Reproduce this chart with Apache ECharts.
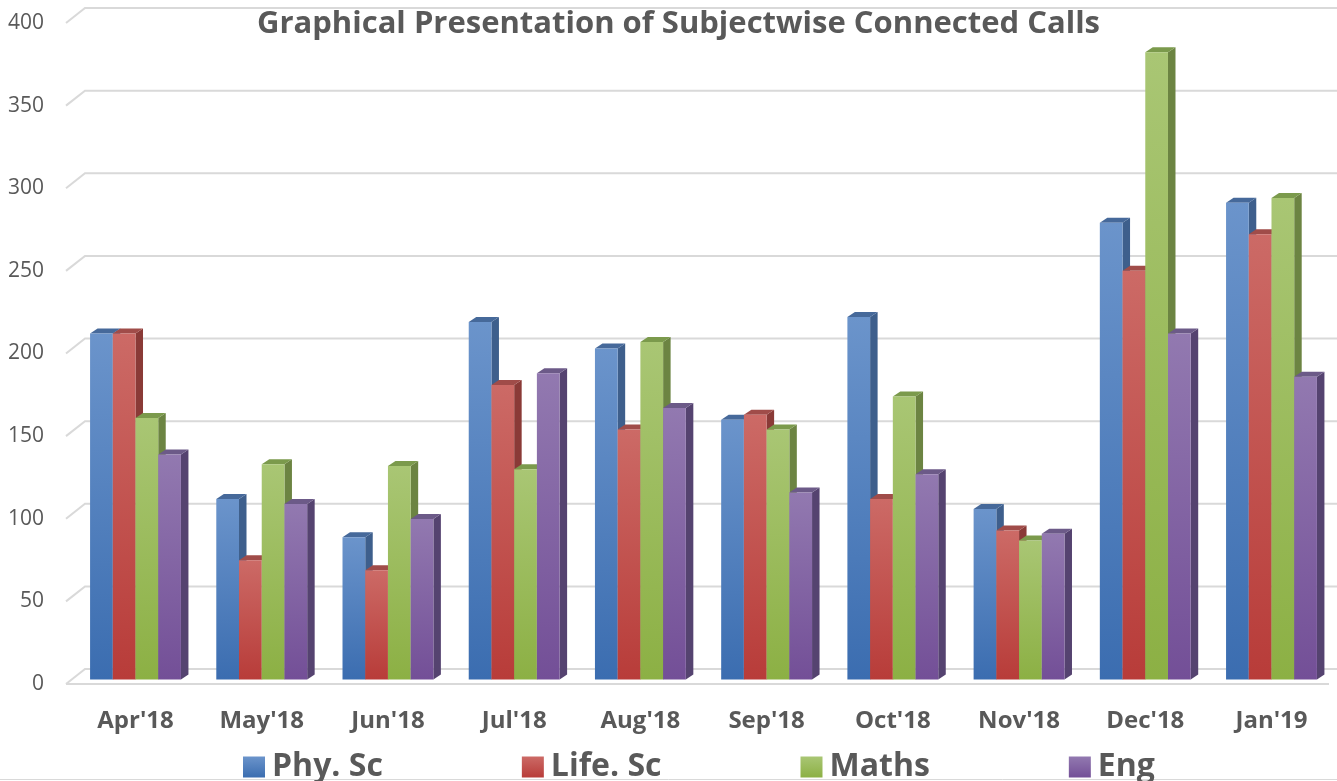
<!DOCTYPE html>
<html>
<head>
<meta charset="utf-8">
<script src="https://cdn.jsdelivr.net/npm/echarts@6/dist/echarts.min.js"></script>
<style>
html,body{margin:0;padding:0;background:#fff;}
#chart{width:1337px;height:781px;}
</style>
</head>
<body>
<div id="chart"></div>
<script>
const months = ["Apr'18","May'18","Jun'18","Jul'18","Aug'18","Sep'18","Oct'18","Nov'18","Dec'18","Jan'19"];
const physSc = [209,109,86,216,200,157,219,103,276,288];
const lifeSc = [209,72,66,178,151,160,109,90,247,269];
const maths  = [158,130,129,127,204,151,171,84,379,291];
const eng    = [136,106,97,185,164,113,124,88,209,183];
const yTicks = [0,50,100,150,200,250,300,350,400];

const seriesNames = ['Phy. Sc','Life. Sc','Maths','Eng'];
const palettes = [
  {top:'#6b94cb', bottom:'#3b6db0', side:'#3e5f8c', cap:'#46699a'},
  {top:'#cc6a66', bottom:'#b83c39', side:'#8a3a37', cap:'#a04c49'},
  {top:'#a9c674', bottom:'#8cb044', side:'#6c8442', cap:'#7b9a4c'},
  {top:'#9279b0', bottom:'#734f97', side:'#554370', cap:'#6c5a88'}
];
const FONT = 'Open Sans';

function grad(a,b){
  return new echarts.graphic.LinearGradient(0,0,0,1,[{offset:0,color:a},{offset:1,color:b}]);
}

function makeBar(k, name, values){
  const pal = palettes[k];
  return {
    type:'custom', name:name, xAxisIndex:0, yAxisIndex:0, z:5,
    data: values.map((v,i)=>[i,v]),
    encode:{x:0,y:1},
    itemStyle:{color: grad(pal.top, pal.bottom)},
    renderItem:function(params, api){
      const ci = api.value(0), v = api.value(1);
      const base = api.coord([ci,0]);
      const top = api.coord([ci,v]);
      const band = api.size([1,0])[0];
      const bw = band*0.18;
      const x0 = base[0] - 2*bw + k*bw;
      const x1 = x0 + bw;
      const dx = 7.5, dy = 5;
      return {type:'group', children:[
        {type:'polygon', shape:{points:[[x1,top[1]],[x1+dx,top[1]-dy],[x1+dx,base[1]-dy],[x1,base[1]]]}, style:{fill:pal.side}},
        {type:'polygon', shape:{points:[[x0,top[1]],[x0+dx,top[1]-dy],[x1+dx,top[1]-dy],[x1,top[1]]]}, style:{fill:pal.cap}},
        {type:'rect', shape:{x:x0,y:top[1],width:bw,height:base[1]-top[1]}, style:{fill:grad(pal.top,pal.bottom)}}
      ]};
    }
  };
}

const chart = echarts.init(document.getElementById('chart'));
chart.setOption({
  backgroundColor:'#ffffff',
  animation:false,
  title:{
    text:'Graphical Presentation of Subjectwise Connected Calls',
    left:257, top:9, padding:0,
    textStyle:{fontFamily:FONT, fontSize:31, fontWeight:'bold', color:'#595959'}
  },
  legend:{
    data:seriesNames,
    left:243, top:751, padding:0,
    icon:'rect', itemWidth:22, itemHeight:21, itemGap:139,
    textStyle:{fontFamily:FONT, fontSize:32, fontWeight:'bold', color:'#595959', padding:[0,0,0,2]}
  },
  grid:[
    {left:72.4, right:2.4, top:17.5, bottom:101.5},
    {left:66, right:8, top:23, bottom:97}
  ],
  xAxis:[
    {type:'category', gridIndex:0, data:months,
     axisLine:{show:false}, axisTick:{show:false}, splitLine:{show:false},
     axisLabel:{fontFamily:FONT, fontSize:24, fontWeight:'bold', color:'#595959', margin:30}},
    {type:'value', gridIndex:1, min:0, max:1, show:false}
  ],
  yAxis:[
    {type:'value', gridIndex:0, min:0, max:400, interval:50, show:false},
    {type:'value', gridIndex:1, min:0, max:400, interval:50,
     axisLine:{show:false}, axisTick:{show:false}, splitLine:{show:false},
     axisLabel:{fontFamily:FONT, fontSize:21, color:'#595959', margin:22}}
  ],
  graphic:[
    {type:'line', shape:{x1:0,y1:779.5,x2:1337,y2:779.5}, style:{stroke:'#d9d9d9', lineWidth:1}, silent:true}
  ],
  series:[
    {
      type:'custom', name:'walls', xAxisIndex:1, yAxisIndex:1, z:1, silent:true,
      data: yTicks.map(v=>[0,v]),
      encode:{x:0,y:1},
      renderItem:function(params, api){
        const v = api.value(1);
        const p = api.coord([0,v]);
        const cs = params.coordSys;
        const bx = p[0]+19, by = p[1]-15;
        const right = cs.x + cs.width + 8;
        const children = [
          {type:'polyline', shape:{points:[[p[0],p[1]],[bx,by],[right,by]]}, style:{stroke:'#d9d9d9', lineWidth:2, fill:null}}
        ];
        if (v === 0) {
          const q = api.coord([1,0]);
          children.push({type:'line', shape:{x1:p[0],y1:p[1],x2:q[0],y2:q[1]}, style:{stroke:'#d9d9d9', lineWidth:2}});
        }
        return {type:'group', children:children};
      }
    },
    makeBar(0, seriesNames[0], physSc),
    makeBar(1, seriesNames[1], lifeSc),
    makeBar(2, seriesNames[2], maths),
    makeBar(3, seriesNames[3], eng)
  ]
});
</script>
</body>
</html>
